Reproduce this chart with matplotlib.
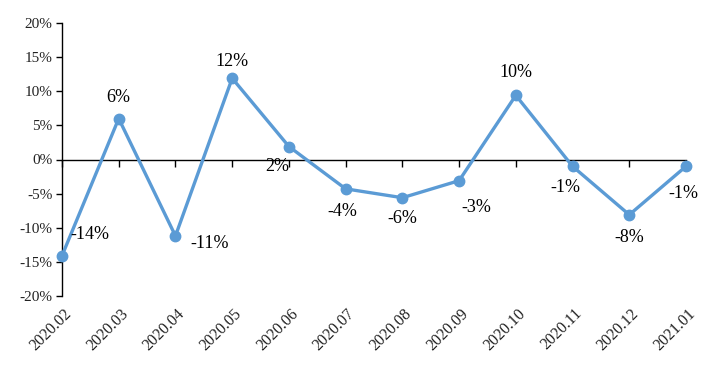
import matplotlib
matplotlib.use("Agg")
import matplotlib.pyplot as plt

months = ["2020.02", "2020.03", "2020.04", "2020.05", "2020.06", "2020.07",
          "2020.08", "2020.09", "2020.10", "2020.11", "2020.12", "2021.01"]
values = [-14.1, 6.0, -11.2, 11.9, 1.9, -4.3, -5.6, -3.1, 9.4, -1.0, -8.1, -1.0]
labels = ["-14%", "6%", "-11%", "12%", "2%", "-4%", "-6%", "-3%", "10%", "-1%", "-8%", "-1%"]
yticks = [-20, -15, -10, -5, 0, 5, 10, 15, 20]

# label offsets in pixels (dx, dy)
offsets = [(28, 21), (0, 21), (34, -8), (0, 17), (-12, -20), (-3, -23),
           (0, -21), (17, -27), (0, 23), (-7, -21), (0, -23), (-3, -27)]

plt.rcParams['font.family'] = ['Liberation Serif', 'DejaVu Serif']

fig = plt.figure(figsize=(7.04, 3.72), dpi=100)
W, H = 704, 372
ax = fig.add_axes([62 / W, 1 - 296 / H, (686 - 62) / W, (296 - 23) / H])

x = list(range(len(months)))
ax.plot(x, values, color='#5B9BD5', lw=2.4, marker='o', ms=7.5, zorder=3,
        clip_on=False)

for xi, v, lab, (dx, dy) in zip(x, values, labels, offsets):
    ax.annotate(lab, (xi, v), xytext=(dx, dy), textcoords='offset pixels',
                ha='center', va='center', fontsize=13, color='black')

ax.set_xlim(0, len(months) - 1)
ax.set_ylim(-20, 20)
ax.set_yticks(yticks)
ax.set_yticklabels([f"{t}%" for t in yticks], fontsize=11, color='#222222')

for s in ['top', 'right']:
    ax.spines[s].set_visible(False)
ax.spines['bottom'].set_position(('data', 0))
ax.spines['left'].set_linewidth(1.0)
ax.spines['bottom'].set_linewidth(1.0)

ax.set_xticks(x)
ax.set_xticklabels([])
ax.tick_params(axis='x', direction='out', length=5, width=1)
ax.tick_params(axis='y', direction='out', length=4, width=1, pad=3)

tr = ax.get_xaxis_transform()
for xi, m in zip(x, months):
    ax.text(xi + 0.02, -0.035, m, transform=tr, rotation=45, ha='right', va='top',
            fontsize=11.5, rotation_mode='anchor', color='#222222')

fig.savefig("out.png", dpi=100)
